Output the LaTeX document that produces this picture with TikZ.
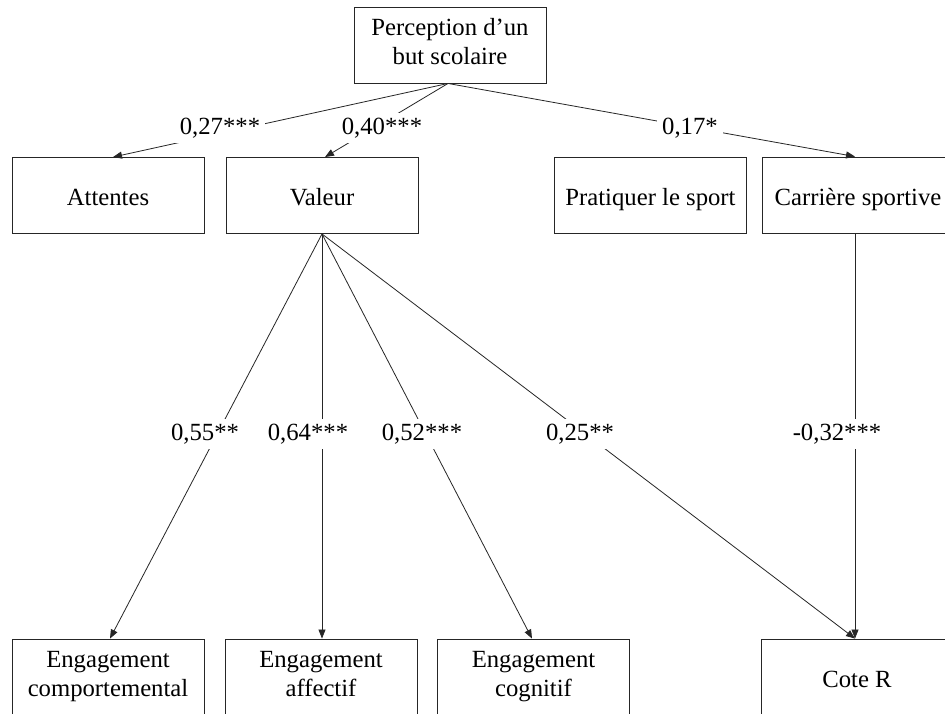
\documentclass[tikz,border=0pt]{standalone}
\usepackage{fontspec}
\setmainfont{Liberation Serif}
\usetikzlibrary{arrows.meta,calc}
% line strut that fixes the baselines inside the two-line boxes
\newcommand\lnstrut{\rule[-7pt]{0pt}{22pt}}
\begin{document}
\begin{tikzpicture}[x=1pt,y=-1pt,
  box/.style={draw=black!85,line width=0.9pt,minimum width=192pt,minimum height=76pt,
    inner sep=0pt,align=center,font=\fontsize{24.7}{29}\selectfont},
  onebox/.style={box,text height=22pt,text depth=2pt},
  link/.style={draw=black!85,line width=0.8pt},
  arr/.style={link,-{Triangle[length=9pt,width=7pt]}},
  coef/.style={fill=white,inner sep=5pt,font=\fontsize{24.7}{29}\selectfont}]
\useasboundingbox (0,0) rectangle (945,713);
\fill[white] (0,0) rectangle (945,713);

% boxes
\node[box] (goal) at (450,45) {Perception d’un\lnstrut\\but scolaire\lnstrut};
\node[onebox] (att) at (108,195.5) {Attentes};
\node[onebox] (val) at (322,195.5) {Valeur};
\node[onebox] (prat) at (650.5,195.5) {Pratiquer le sport};
\node[onebox] (car) at (858,195) {Carrière sportive};
\node[box] (comp) at (108,677) {Engagement\lnstrut\\comportemental\lnstrut};
\node[box] (aff) at (321,677) {Engagement\lnstrut\\affectif\lnstrut};
\node[box] (cog) at (533.5,677) {Engagement\lnstrut\\cognitif\lnstrut};
\node[onebox] (cote) at (857,677) {Cote R};

% paths
\draw[arr] ([xshift=-2pt]goal.south) -- ([xshift=5pt]att.north);
\draw[arr] ([xshift=-2pt]goal.south) -- ([xshift=3pt]val.north);
\draw[arr] ([xshift=-2pt]goal.south) -- ([xshift=-3pt]car.north);
\draw[arr] (val.south) -- ([xshift=2pt]comp.north);
\draw[arr] (val.south) -- (aff.north-|val.south);
\draw[arr] (val.south) -- ([xshift=-1.5pt]cog.north);
\draw[arr] (val.south) -- ([xshift=-2pt]cote.north);
\draw[arr] ([xshift=-3pt]car.south) -- ([xshift=-2pt]cote.north);

% coefficients
\node[coef] (c1) at (220,128) {0,27***};
\node[coef] (c2) at (382,128) {0,40***};
\node[coef] (c3) at (690,128) {0,17*};
\node[coef] (c4) at (205,434) {0,55**};
\node[coef] (c5) at (308,434) {0,64***};
\node[coef] (c6) at (422,434) {0,52***};
\node[coef] (c7) at (580,434) {0,25**};
\node[coef] (c8) at (837,434) {-0,32***};
\end{tikzpicture}
\end{document}
